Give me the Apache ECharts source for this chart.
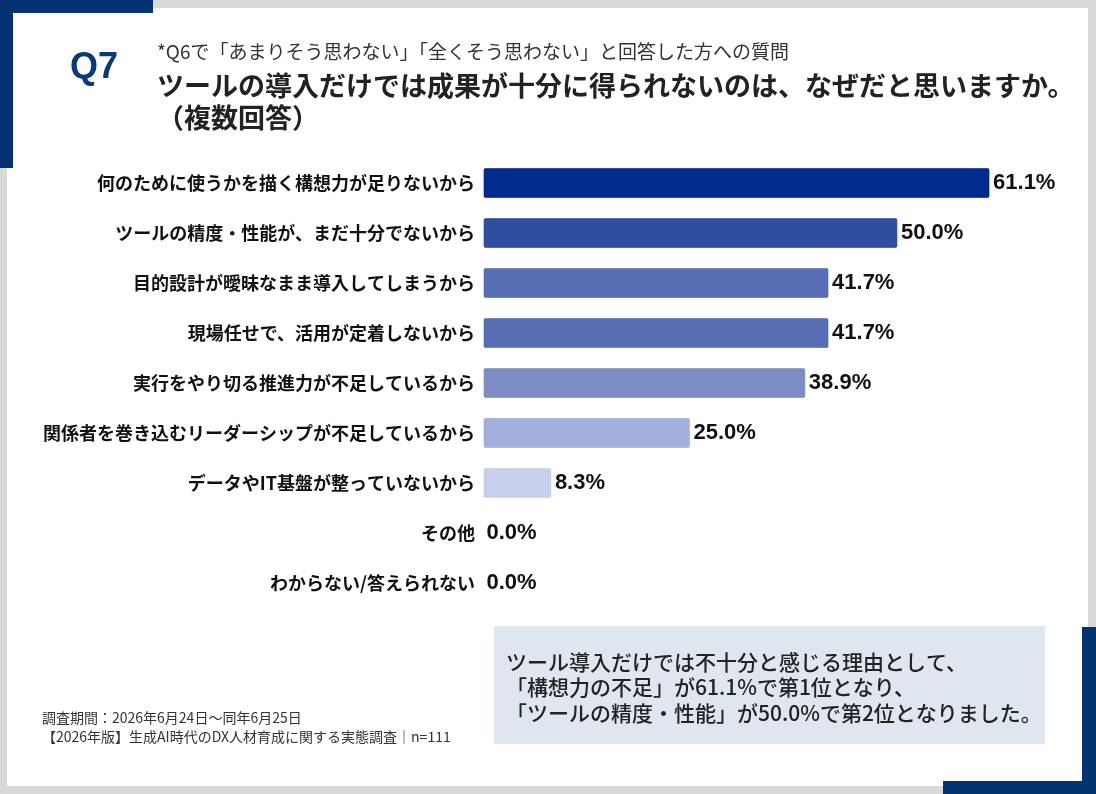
<!DOCTYPE html>
<html>
<head>
<meta charset="utf-8">
<script src="https://cdn.jsdelivr.net/npm/echarts@6/dist/echarts.min.js"></script>
<style>
html,body{margin:0;padding:0;background:#d9d9d9;}
#chart{width:1096px;height:794px;}
</style>
</head>
<body>
<div id="chart"></div>
<script>
const categories = [
  '何のために使うかを描く構想力が足りないから',
  'ツールの精度・性能が、まだ十分でないから',
  '目的設計が曖昧なまま導入してしまうから',
  '現場任せで、活用が定着しないから',
  '実行をやり切る推進力が不足しているから',
  '関係者を巻き込むリーダーシップが不足しているから',
  'データやIT基盤が整っていないから',
  'その他',
  'わからない/答えられない'
];
const values = [61.1, 50.0, 41.7, 41.7, 38.9, 25.0, 8.3, 0.0, 0.0];

const titleQ = 'Q7';
const subTitle = '*Q6で「あまりそう思わない」「全くそう思わない」と回答した方への質問';
const mainTitle = 'ツールの導入だけでは成果が十分に得られないのは、なぜだと思いますか。';
const mainTitle2 = '（複数回答）';
const noteLines = [
  '調査期間：2026年6月24日～同年6月25日',
  '【2026年版】生成AI時代のDX人材育成に関する実態調査｜n=111'
];
const boxLines = [
  'ツール導入だけでは不十分と感じる理由として、',
  '「構想力の不足」が61.1%で第1位となり、',
  '「ツールの精度・性能」が50.0%で第2位となりました。'
];

const palette = ['#012b8c', '#2f4ea0', '#566eb3', '#566eb3', '#7d8dc4', '#a2aedb', '#c6d0ea', '#c6d0ea', '#c6d0ea'];
const navy = '#04346f';
const JP = '"Noto Sans CJK JP", "Noto Sans", sans-serif';

const chart = echarts.init(document.getElementById('chart'), null, {renderer: 'canvas'});

const graphics = [
  {type: 'rect', z: -10, shape: {x: 0, y: 0, width: 1096, height: 794}, style: {fill: '#d9d9d9'}},
  {type: 'rect', z: -9, shape: {x: 7, y: 8, width: 1081, height: 778}, style: {fill: '#ffffff'}},
  {type: 'rect', z: -8, shape: {x: 0, y: 0, width: 153, height: 13}, style: {fill: navy}},
  {type: 'rect', z: -8, shape: {x: 0, y: 0, width: 13, height: 168}, style: {fill: navy}},
  {type: 'rect', z: -8, shape: {x: 1082, y: 627, width: 14, height: 167}, style: {fill: navy}},
  {type: 'rect', z: -8, shape: {x: 943, y: 781, width: 153, height: 13}, style: {fill: navy}},
  {type: 'rect', z: -8, shape: {x: 494, y: 626, width: 551, height: 118}, style: {fill: '#e0e6ef'}},
  {type: 'text', x: 70, y: 68, style: {text: titleQ, fill: '#0b3a78', font: 'bold 36px "Liberation Sans", Arial, sans-serif', verticalAlign: 'middle'}},
  {type: 'text', x: 157, y: 52, style: {text: subTitle, fill: '#333333', font: '19px ' + JP, verticalAlign: 'middle'}},
  {type: 'text', x: 157, y: 86, style: {text: mainTitle, fill: '#222222', font: 'bold 27px ' + JP, verticalAlign: 'middle'}},
  {type: 'text', x: 157, y: 118, style: {text: mainTitle2, fill: '#222222', font: 'bold 27px ' + JP, verticalAlign: 'middle'}}
];
noteLines.forEach((t, i) => {
  graphics.push({type: 'text', x: 42, y: 718 + i * 19, style: {text: t, fill: '#333333', font: '14px ' + JP, verticalAlign: 'middle'}});
});
boxLines.forEach((t, i) => {
  graphics.push({type: 'text', x: 506, y: 662 + i * 25.5, style: {text: t, fill: '#222222', font: '500 21px ' + JP, verticalAlign: 'middle'}});
});

const option = {
  animation: false,
  backgroundColor: '#d9d9d9',
  graphic: graphics,
  grid: {left: 483, top: 158, width: 580.9, height: 450, containLabel: false},
  xAxis: {
    type: 'value', min: 0, max: 70, show: false
  },
  yAxis: {
    type: 'category', inverse: true, data: categories,
    axisLine: {show: false}, axisTick: {show: false}, splitLine: {show: false},
    axisLabel: {color: '#111111', fontSize: 18, fontWeight: 'bold', fontFamily: JP, margin: 8}
  },
  series: [{
    type: 'bar',
    barWidth: 31,
    data: values.map((v, i) => ({value: v, itemStyle: {color: palette[i], borderColor: 'rgba(255,255,255,0.35)', borderWidth: 1, borderRadius: 2}})),
    label: {
      show: true, position: 'right', distance: 3,
      formatter: p => p.value.toFixed(1) + '%',
      color: '#111111', fontSize: 22, fontWeight: 'bold', fontFamily: '"Liberation Sans", Arial, sans-serif'
    }
  }]
};
chart.setOption(option);
</script>
</body>
</html>
